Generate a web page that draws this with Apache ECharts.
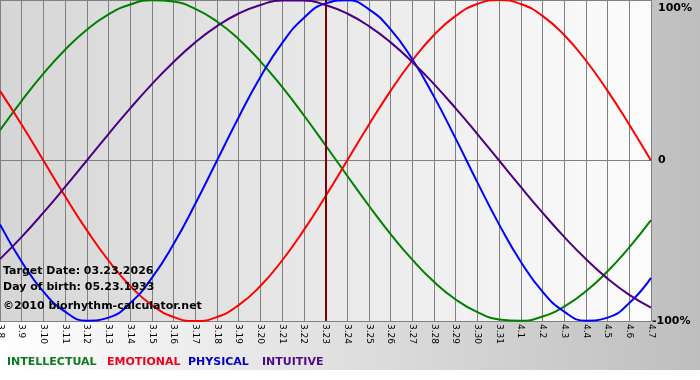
<!DOCTYPE html>
<html>
<head>
<meta charset="utf-8">
<script src="https://cdn.jsdelivr.net/npm/echarts@6/dist/echarts.min.js"></script>
<style>
html,body{margin:0;padding:0;background:#fff;}
#c{width:700px;height:380px;}
</style>
</head>
<body>
<div id="c"></div>
<script>
const categories = ['3.8','3.9','3.10','3.11','3.12','3.13','3.14','3.15','3.16','3.17','3.18','3.19','3.20','3.21','3.22','3.23','3.24','3.25','3.26','3.27','3.28','3.29','3.30','3.31','4.1','4.2','4.3','4.4','4.5','4.6','4.7'];
const targetDay = '3.23';
const intellectual = [18.9,37.2,54.1,69.0,81.5,91.0,97.2,99.9,99.0,94.5,86.6,75.6,61.8,45.8,28.2,9.5,-9.5,-28.2,-45.8,-61.8,-75.6,-86.6,-94.5,-99.0,-99.9,-97.2,-91.0,-81.5,-69.0,-54.1,-37.2];
const emotional = [43.4,22.3,0,-22.3,-43.4,-62.3,-78.2,-90.1,-97.5,-100,-97.5,-90.1,-78.2,-62.3,-43.4,-22.3,0,22.3,43.4,62.3,78.2,90.1,97.5,100,97.5,90.1,78.2,62.3,43.4,22.3,0];
const physical = [-39.8,-63.1,-81.7,-94.2,-99.8,-97.9,-88.8,-73.1,-52.0,-27.0,0,27.0,52.0,73.1,88.8,97.9,99.8,94.2,81.7,63.1,39.8,13.6,-13.6,-39.8,-63.1,-81.7,-94.2,-99.8,-97.9,-88.8,-73.1];
const intuitive = [-61.4,-47.6,-32.5,-16.5,0,16.5,32.5,47.6,61.4,73.6,83.7,91.6,96.9,99.7,99.7,96.9,91.6,83.7,73.6,61.4,47.6,32.5,16.5,0,-16.5,-32.5,-47.6,-61.4,-73.6,-83.7,-91.6];
const yTicks = {'-100':'-100%','0':'0','100':'100%'};
const legendNames = ['INTELLECTUAL','EMOTIONAL','PHYSICAL','INTUITIVE'];
const infoLines = ['Target Date: 03.23.2026','Day of birth: 05.23.1933','\u00a92010 biorhythm-calculator.net'];

const colors = ['#008000','#ff0000','#0000ff','#4b0082'];
const legendColors = ['#0a7a1e','#f0001c','#0000cc','#500a88'];
const legendX = [7,107,188,262];

const chart = echarts.init(document.getElementById('c'), null, {renderer:'canvas'});
const seriesData = [intellectual, emotional, physical, intuitive];
const series = seriesData.map((d,i)=>({
  name: legendNames[i],
  type:'line',
  data:d,
  smooth:true,
  showSymbol:false,
  symbol:'none',
  lineStyle:{color:colors[i], width:2},
  itemStyle:{color:colors[i]},
  z: 3+i
}));
series[3].markLine = {
  silent:true,
  symbol:'none',
  label:{show:false},
  lineStyle:{color:'#800000', width:2, type:'solid'},
  data:[{xAxis:targetDay}]
};

const graphics = [
  {type:'rect', z:-100, silent:true, shape:{x:0,y:0,width:700,height:370},
   style:{fill:new echarts.graphic.LinearGradient(0,0,1,0,[{offset:0,color:'#ffffff'},{offset:1,color:'#bebebe'}])}}
];
const infoY = [271.5, 287, 306.5];
infoLines.forEach((t,i)=>{
  graphics.push({type:'text', z:100, x:3, y:infoY[i], silent:true,
    style:{text:t, fill:'#000', font:'bold 11px "DejaVu Sans"', verticalAlign:'middle', align:'left'}});
});
legendNames.forEach((t,i)=>{
  graphics.push({type:'text', z:100, x:legendX[i], y:362.5, silent:true,
    style:{text:t, fill:legendColors[i], font:'bold 11px "DejaVu Sans"', verticalAlign:'middle', align:'left'}});
});

chart.setOption({
  animation:false,
  backgroundColor:'#ffffff',
  grid:{left:0, right:49, top:0, bottom:59, show:true, borderWidth:0, containLabel:false, outerBoundsMode:'none',
    backgroundColor:new echarts.graphic.LinearGradient(0,0,1,0,[{offset:0,color:'#d6d6d6'},{offset:1,color:'#fcfcfc'}])},
  xAxis:{
    type:'category', data:categories, boundaryGap:false,
    axisLine:{show:true, lineStyle:{color:'#808080', width:1}},
    axisTick:{show:true, length:4, lineStyle:{color:'#808080'}},
    splitLine:{show:true, lineStyle:{color:'#808080', width:1}},
    axisLabel:{interval:0, rotate:-90, fontSize:9, fontFamily:'DejaVu Sans', color:'#000', margin:3}
  },
  yAxis:{
    type:'value', min:-100, max:100, interval:100, position:'right',
    axisLine:{show:false}, axisTick:{show:false},
    splitLine:{show:true, lineStyle:{color:'#808080', width:1}},
    axisLabel:{
      formatter:v=> v===-100 ? '{n|'+yTicks[String(v)]+'}' : (v===100 ? '{t|'+yTicks[String(v)]+'}' : yTicks[String(v)]),
      rich:{
        n:{fontWeight:'bold', fontSize:11, fontFamily:'DejaVu Sans', color:'#000', padding:[0,0,0,-6]},
        t:{fontWeight:'bold', fontSize:11, fontFamily:'DejaVu Sans', color:'#000', padding:[3,0,0,0]}
      },
      fontWeight:'bold', fontSize:11, fontFamily:'DejaVu Sans', color:'#000', margin:7,
      verticalAlignMaxLabel:'top'
    }
  },
  graphic:graphics,
  series:series
});
</script>
</body>
</html>
